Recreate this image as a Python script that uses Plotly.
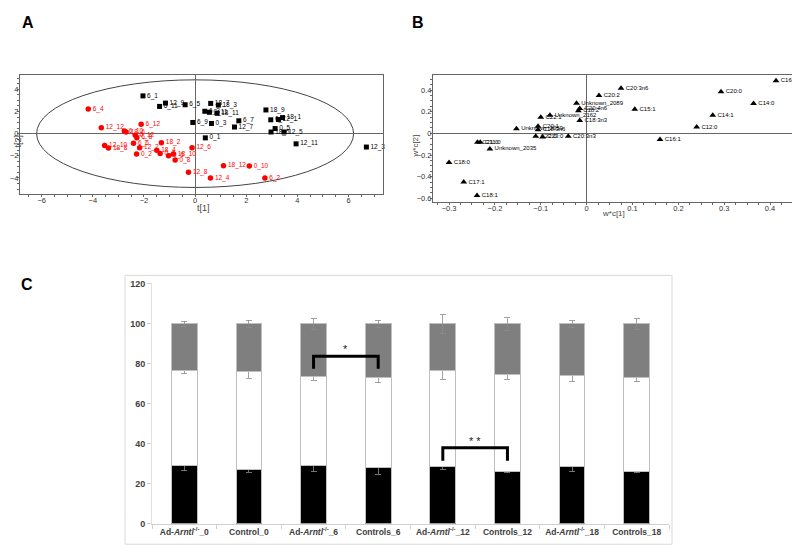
import plotly.graph_objects as go

# ---------------- Panel A: scores plot ----------------
A_CTRL_LABELS = ["6_1", "12_9", "6_11", "6_5", "18_7", "18_3", "6_3", "0_11", "18_11", "18_9",
                 "6_9", "0_3", "6_7", "12_7", "0_7", "12_1", "18_1", "0_5", "18_5", "12_5",
                 "0_1", "12_11", "12_3"]
A_CTRL_T1 = [-2.04, -1.16, -1.39, -0.39, 0.61, 0.91, 0.38, 0.56, 0.86, 2.77,
             -0.09, 0.64, 1.71, 1.54, 2.96, 3.26, 3.42, 3.13, 2.97, 3.48,
             0.40, 3.95, 6.70]
A_CTRL_T2 = [3.41, 2.76, 2.46, 2.61, 2.73, 2.58, 2.02, 1.93, 1.84, 2.14,
             1.01, 0.92, 1.16, 0.60, 1.25, 1.28, 1.45, 0.46, 0.15, 0.15,
             -0.38, -0.92, -1.21]

A_KO_LABELS = ["6_4", "12_12", "6_12", "6_10", "18_6", "0_12", "6_8", "6_6", "18_2", "12_6",
               "12_10", "18_8", "12_2", "0_2", "18_4", "0_4", "0_6", "18_10", "0_8", "12_8",
               "12_4", "18_12", "0_10", "6_2"]
A_KO_T1 = [-4.18, -3.67, -2.11, -2.77, -2.70, -2.34, -2.28, -2.41, -1.32, -0.12,
           -3.54, -3.39, -2.17, -2.29, -1.50, -1.37, -1.04, -0.85, -0.78, -0.26,
           0.60, 1.11, 2.12, 2.73]
A_KO_T2 = [2.22, 0.54, 0.86, 0.24, 0.15, -0.15, -0.38, -0.86, -0.83, -1.27,
           -1.06, -1.30, -1.27, -1.84, -1.51, -1.80, -2.00, -1.84, -2.37, -3.49,
           -4.00, -2.90, -2.93, -4.00]

ELLIPSE_T1 = 6.2
ELLIPSE_T2 = 4.86

# ---------------- Panel B: loadings plot ----------------
B_LABELS = ["C16:0", "C20:0", "C14:0", "C14:1", "C12:0", "C16:1", "C15:1", "C20:3n6", "C20:2",
            "Unknown_2089", "C18:2", "C20:4n6", "Unknown_2162", "C22:1", "C18:3n3",
            "Unknown_2059", "C20:1", "C18:3n6", "C22:0", "C23:0", "C20:3n3", "C21:0", "C11:0",
            "Unknown_2035", "C18:0", "C17:1", "C18:1"]
B_WC1 = [0.413, 0.293, 0.364, 0.275, 0.240, 0.160, 0.105, 0.075, 0.027,
         -0.022, -0.018, -0.015, -0.080, -0.100, -0.015,
         -0.153, -0.106, -0.106, -0.111, -0.096, -0.040, -0.238, -0.232,
         -0.211, -0.300, -0.268, -0.239]
B_WC2 = [0.487, 0.384, 0.276, 0.167, 0.058, -0.057, 0.224, 0.418, 0.351,
         0.278, 0.209, 0.230, 0.168, 0.149, 0.119,
         0.043, 0.067, 0.033, -0.026, -0.033, -0.026, -0.081, -0.081,
         -0.144, -0.268, -0.450, -0.574]

# ---------------- Panel C: stacked bars ----------------
CATEGORIES = ["Ad-<i>Arntl</i><sup>-/-</sup>_0", "Control_0",
              "Ad-<i>Arntl</i><sup>-/-</sup>_6", "Controls_6",
              "Ad-<i>Arntl</i><sup>-/-</sup>_12", "Controls_12",
              "Ad-<i>Arntl</i><sup>-/-</sup>_18", "Controls_18"]
BLACK_VALS = [29.4, 27.3, 29.4, 28.1, 28.7, 26.1, 28.7, 26.4]
WHITE_VALS = [47.3, 48.9, 44.1, 45.0, 48.0, 48.5, 45.6, 46.9]
GRAY_VALS = [23.3, 23.8, 26.5, 26.9, 23.3, 25.4, 25.7, 26.7]
BLACK_ERR = [2.9, 1.6, 3.4, 3.2, 1.5, 0.6, 2.6, 0.8]
WHITE_ERR = [1.7, 3.5, 1.6, 2.5, 4.3, 2.4, 2.9, 2.2]
GRAY_ERR = [1.4, 1.8, 2.6, 1.8, 4.6, 3.1, 1.6, 2.6]
C_TICKS = [0, 20, 40, 60, 80, 100, 120]

SIG1_PAIR = [2, 3]
SIG1_Y = [77.6, 83.8]
SIG2_PAIR = [4, 5]
SIG2_Y = [31.5, 38.0]

W, H = 800, 555
PAGE_OFFSET = 8  # default page margin around the figure


def px(x):
    return (x - PAGE_OFFSET) / W


def py(y):
    return 1 - (y - PAGE_OFFSET) / H


FONT = "Arial"
fig = go.Figure()

# Panel A traces
fig.add_trace(go.Scatter(
    x=A_CTRL_T1, y=A_CTRL_T2, mode="markers+text", text=A_CTRL_LABELS,
    textposition="middle right", textfont=dict(family=FONT, size=6.5, color="black"),
    marker=dict(symbol="square", size=5, color="black"),
    xaxis="x", yaxis="y", showlegend=False, cliponaxis=False))
fig.add_trace(go.Scatter(
    x=A_KO_T1, y=A_KO_T2, mode="markers+text", text=A_KO_LABELS,
    textposition="middle right", textfont=dict(family=FONT, size=6.5, color="#ff0000"),
    marker=dict(symbol="circle", size=5.5, color="#ff0000"),
    xaxis="x", yaxis="y", showlegend=False, cliponaxis=False))

# Panel B traces
fig.add_trace(go.Scatter(
    x=B_WC1, y=B_WC2, mode="markers+text", text=B_LABELS,
    textposition="middle right", textfont=dict(family=FONT, size=6, color="black"),
    marker=dict(symbol="triangle-up", size=6, color="black"),
    xaxis="x2", yaxis="y2", showlegend=False, cliponaxis=False))

# Panel C traces
bar_line = dict(color="#bfbfbf", width=1)
err_style = dict(type="data", thickness=0.8, width=3, color="#8c8c8c")
fig.add_trace(go.Bar(x=CATEGORIES, y=BLACK_VALS, marker=dict(color="black", line=bar_line),
                     error_y=dict(array=BLACK_ERR, **err_style),
                     xaxis="x3", yaxis="y3", showlegend=False, width=0.4))
fig.add_trace(go.Bar(x=CATEGORIES, y=WHITE_VALS, marker=dict(color="white", line=bar_line),
                     error_y=dict(array=WHITE_ERR, **err_style),
                     xaxis="x3", yaxis="y3", showlegend=False, width=0.4))
fig.add_trace(go.Bar(x=CATEGORIES, y=GRAY_VALS, marker=dict(color="#7f7f7f", line=bar_line),
                     error_y=dict(array=GRAY_ERR, **err_style),
                     xaxis="x3", yaxis="y3", showlegend=False, width=0.4))

for pair, yy in [(SIG1_PAIR, SIG1_Y), (SIG2_PAIR, SIG2_Y)]:
    a, b = CATEGORIES[pair[0]], CATEGORIES[pair[1]]
    fig.add_trace(go.Scatter(x=[a, a, b, b], y=[yy[0], yy[1], yy[1], yy[0]], mode="lines",
                             line=dict(color="black", width=3), xaxis="x3", yaxis="y3",
                             showlegend=False, hoverinfo="skip"))

axis_common = dict(showgrid=False, showline=True, mirror=True, linecolor="#666", linewidth=1,
                   ticks="outside", ticklen=2, tickcolor="#666", ticklabelstandoff=-3,
                   zeroline=True, zerolinecolor="#666", zerolinewidth=1,
                   tickfont=dict(family=FONT, size=7.5, color="#333"))

fig.update_layout(
    width=W, height=H, margin=dict(l=0, r=0, t=0, b=0),
    paper_bgcolor="white", plot_bgcolor="white",
    barmode="stack",
    xaxis=dict(domain=[px(20), px(383)], range=[-6.85, 7.35], anchor="y", dtick=2,
               minor=dict(ticks="outside", ticklen=2, dtick=0.5, tickcolor="#666"), **axis_common),
    yaxis=dict(domain=[py(193), py(72)], range=[-5.45, 5.3], anchor="x", dtick=2,
               minor=dict(ticks="outside", ticklen=2, dtick=0.5, tickcolor="#666"), **axis_common),
    xaxis2=dict(domain=[px(433), px(793)], range=[-0.335, 0.45], anchor="y2", dtick=0.1,
                minor=dict(ticks="outside", ticklen=2, dtick=0.025, tickcolor="#666"), **axis_common),
    yaxis2=dict(domain=[py(200.7), py(72)], range=[-0.63, 0.54], anchor="x2", dtick=0.2,
                minor=dict(ticks="outside", ticklen=2, dtick=0.05, tickcolor="#666"), **axis_common),
    xaxis3=dict(domain=[px(152), px(669)], anchor="y3", type="category",
                range=[-0.5, 7.5], showgrid=False, showline=True, linecolor="#d0d0d0",
                ticks="outside", tickson="boundaries", ticklen=4, tickcolor="#d0d0d0",
                tickangle=0,
                tickfont=dict(family=FONT, size=8.5, color="#404040", weight="bold")),
    yaxis3=dict(domain=[py(528.3), py(283.3)], anchor="x3", range=[0, 120.5],
                tickvals=C_TICKS, showgrid=False, showline=True, linecolor="#e0e0e0",
                ticks="outside", ticklen=4, tickcolor="#d0d0d0", zeroline=False,
                tickfont=dict(family=FONT, size=9, color="#404040", weight="bold")),
    shapes=[
        dict(type="circle", xref="x", yref="y", x0=-ELLIPSE_T1, x1=ELLIPSE_T1,
             y0=-ELLIPSE_T2, y1=ELLIPSE_T2, line=dict(color="#444", width=1), layer="below"),
        dict(type="rect", xref="paper", yref="paper", x0=px(125), x1=px(672),
             y0=py(549), y1=py(275.7), line=dict(color="#d9d9d9", width=1), layer="below"),
    ],
    annotations=[
        dict(text="<b>A</b>", x=px(20), y=1.0, xref="paper", yref="paper",
             xanchor="left", yanchor="top", showarrow=False, font=dict(family=FONT, size=16, color="black")),
        dict(text="<b>B</b>", x=px(410), y=1.0, xref="paper", yref="paper",
             xanchor="left", yanchor="top", showarrow=False, font=dict(family=FONT, size=16, color="black")),
        dict(text="<b>C</b>", x=px(19), y=py(285), xref="paper", yref="paper",
             xanchor="left", yanchor="middle", showarrow=False, font=dict(family=FONT, size=16, color="black")),
        dict(text="t[1]", x=px(195), y=py(207), xref="paper", yref="paper", showarrow=False,
             font=dict(family=FONT, size=9, color="#444")),
        dict(text="t[2]", x=px(11), y=py(131), xref="paper", yref="paper", showarrow=False,
             textangle=-90, font=dict(family=FONT, size=9, color="#444")),
        dict(text="w*c[1]", x=px(627), y=py(213), xref="paper", yref="paper", showarrow=False,
             font=dict(family=FONT, size=8, color="#444")),
        dict(text="w*c[2]", x=px(416), y=py(131), xref="paper", yref="paper", showarrow=False,
             textangle=-90, font=dict(family=FONT, size=8, color="#444")),
        dict(text="*", x=(SIG1_PAIR[0] + SIG1_PAIR[1]) / 2, y=SIG1_Y[1] + 3.5, xref="x3", yref="y3",
             showarrow=False, font=dict(family=FONT, size=11, color="#222")),
        dict(text="* *", x=(SIG2_PAIR[0] + SIG2_PAIR[1]) / 2, y=SIG2_Y[1] + 3.5, xref="x3", yref="y3",
             showarrow=False, font=dict(family=FONT, size=11, color="#222")),
    ],
)

fig.write_html("out.html")
